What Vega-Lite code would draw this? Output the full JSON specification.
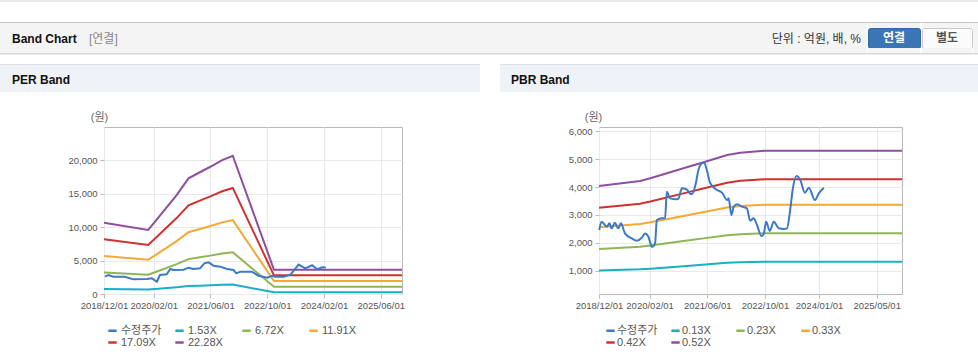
{
  "$schema": "https://vega.github.io/schema/vega-lite/v6.json",
  "background": "white",
  "padding": 0,
  "config": {
    "font": "Liberation Sans, Noto Sans CJK KR, sans-serif",
    "view": {"stroke": null},
    "concat": {"spacing": 0},
    "title": {"anchor": "start", "frame": "group", "fontSize": 12, "fontWeight": "bold", "color": "#111"}
  },
  "datasets": {
    "per": [
      {"s": "수정주가", "d": "2018/12/09", "v": 2590},
      {"s": "수정주가", "d": "2019/01/07", "v": 2840},
      {"s": "수정주가", "d": "2019/02/19", "v": 2590},
      {"s": "수정주가", "d": "2019/05/28", "v": 2590},
      {"s": "수정주가", "d": "2019/08/10", "v": 2190},
      {"s": "수정주가", "d": "2019/12/04", "v": 2240},
      {"s": "수정주가", "d": "2020/01/16", "v": 2340},
      {"s": "수정주가", "d": "2020/02/28", "v": 1840},
      {"s": "수정주가", "d": "2020/03/25", "v": 2840},
      {"s": "수정주가", "d": "2020/05/22", "v": 2940},
      {"s": "수정주가", "d": "2020/06/22", "v": 3740},
      {"s": "수정주가", "d": "2020/07/19", "v": 3590},
      {"s": "수정주가", "d": "2020/10/13", "v": 3640},
      {"s": "수정주가", "d": "2020/11/25", "v": 3940},
      {"s": "수정주가", "d": "2021/01/07", "v": 3740},
      {"s": "수정주가", "d": "2021/03/04", "v": 3840},
      {"s": "수정주가", "d": "2021/04/10", "v": 4590},
      {"s": "수정주가", "d": "2021/05/16", "v": 4740},
      {"s": "수정주가", "d": "2021/06/28", "v": 4240},
      {"s": "수정주가", "d": "2021/08/25", "v": 4090},
      {"s": "수정주가", "d": "2021/10/22", "v": 3740},
      {"s": "수정주가", "d": "2021/12/16", "v": 3590},
      {"s": "수정주가", "d": "2022/01/10", "v": 3090},
      {"s": "수정주가", "d": "2022/02/13", "v": 3340},
      {"s": "수정주가", "d": "2022/05/22", "v": 3340},
      {"s": "수정주가", "d": "2022/07/19", "v": 2740},
      {"s": "수정주가", "d": "2022/10/01", "v": 2440},
      {"s": "수정주가", "d": "2022/11/13", "v": 2740},
      {"s": "수정주가", "d": "2022/12/10", "v": 2590},
      {"s": "수정주가", "d": "2023/02/22", "v": 2590},
      {"s": "수정주가", "d": "2023/04/19", "v": 2900},
      {"s": "수정주가", "d": "2023/06/28", "v": 4400},
      {"s": "수정주가", "d": "2023/08/25", "v": 3840},
      {"s": "수정주가", "d": "2023/10/22", "v": 4300},
      {"s": "수정주가", "d": "2023/12/04", "v": 3700},
      {"s": "수정주가", "d": "2024/01/16", "v": 4000},
      {"s": "수정주가", "d": "2024/02/16", "v": 3950},
      {"s": "1.53X", "d": "2018/12/01", "v": 733},
      {"s": "1.53X", "d": "2019/12/15", "v": 658},
      {"s": "1.53X", "d": "2020/02/12", "v": 743},
      {"s": "1.53X", "d": "2020/08/15", "v": 1018},
      {"s": "1.53X", "d": "2020/11/25", "v": 1189},
      {"s": "1.53X", "d": "2021/03/03", "v": 1252},
      {"s": "1.53X", "d": "2021/06/01", "v": 1308},
      {"s": "1.53X", "d": "2021/09/10", "v": 1377},
      {"s": "1.53X", "d": "2021/12/10", "v": 1421},
      {"s": "1.53X", "d": "2022/11/28", "v": 251},
      {"s": "1.53X", "d": "2025/12/01", "v": 251},
      {"s": "6.72X", "d": "2018/12/01", "v": 3218},
      {"s": "6.72X", "d": "2019/12/15", "v": 2890},
      {"s": "6.72X", "d": "2020/02/12", "v": 3263},
      {"s": "6.72X", "d": "2020/08/15", "v": 4469},
      {"s": "6.72X", "d": "2020/11/25", "v": 5221},
      {"s": "6.72X", "d": "2021/03/03", "v": 5497},
      {"s": "6.72X", "d": "2021/06/01", "v": 5746},
      {"s": "6.72X", "d": "2021/09/10", "v": 6048},
      {"s": "6.72X", "d": "2021/12/10", "v": 6243},
      {"s": "6.72X", "d": "2022/11/28", "v": 1101},
      {"s": "6.72X", "d": "2025/12/01", "v": 1101},
      {"s": "11.91X", "d": "2018/12/01", "v": 5704},
      {"s": "11.91X", "d": "2019/12/15", "v": 5121},
      {"s": "11.91X", "d": "2020/02/12", "v": 5783},
      {"s": "11.91X", "d": "2020/08/15", "v": 7920},
      {"s": "11.91X", "d": "2020/11/25", "v": 9254},
      {"s": "11.91X", "d": "2021/03/03", "v": 9742},
      {"s": "11.91X", "d": "2021/06/01", "v": 10183},
      {"s": "11.91X", "d": "2021/09/10", "v": 10719},
      {"s": "11.91X", "d": "2021/12/10", "v": 11064},
      {"s": "11.91X", "d": "2022/11/28", "v": 1951},
      {"s": "11.91X", "d": "2025/12/01", "v": 1951},
      {"s": "17.09X", "d": "2018/12/01", "v": 8184},
      {"s": "17.09X", "d": "2019/12/15", "v": 7349},
      {"s": "17.09X", "d": "2020/02/12", "v": 8299},
      {"s": "17.09X", "d": "2020/08/15", "v": 11365},
      {"s": "17.09X", "d": "2020/11/25", "v": 13279},
      {"s": "17.09X", "d": "2021/03/03", "v": 13980},
      {"s": "17.09X", "d": "2021/06/01", "v": 14612},
      {"s": "17.09X", "d": "2021/09/10", "v": 15381},
      {"s": "17.09X", "d": "2021/12/10", "v": 15877},
      {"s": "17.09X", "d": "2022/11/28", "v": 2799},
      {"s": "17.09X", "d": "2025/12/01", "v": 2799},
      {"s": "22.28X", "d": "2018/12/01", "v": 10670},
      {"s": "22.28X", "d": "2019/12/15", "v": 9580},
      {"s": "22.28X", "d": "2020/02/12", "v": 10819},
      {"s": "22.28X", "d": "2020/08/15", "v": 14816},
      {"s": "22.28X", "d": "2020/11/25", "v": 17312},
      {"s": "22.28X", "d": "2021/03/03", "v": 18225},
      {"s": "22.28X", "d": "2021/06/01", "v": 19049},
      {"s": "22.28X", "d": "2021/09/10", "v": 20052},
      {"s": "22.28X", "d": "2021/12/10", "v": 20698},
      {"s": "22.28X", "d": "2022/11/28", "v": 3649},
      {"s": "22.28X", "d": "2025/12/01", "v": 3649}
    ],
    "pbr": [
      {"s": "수정주가", "d": "2018/12/03", "v": 2462},
      {"s": "수정주가", "d": "2018/12/23", "v": 2760},
      {"s": "수정주가", "d": "2019/02/05", "v": 2580},
      {"s": "수정주가", "d": "2019/02/27", "v": 2700},
      {"s": "수정주가", "d": "2019/03/17", "v": 2520},
      {"s": "수정주가", "d": "2019/04/14", "v": 2723},
      {"s": "수정주가", "d": "2019/05/12", "v": 2520},
      {"s": "수정주가", "d": "2019/06/04", "v": 2700},
      {"s": "수정주가", "d": "2019/07/08", "v": 2340},
      {"s": "수정주가", "d": "2019/09/04", "v": 2160},
      {"s": "수정주가", "d": "2019/10/15", "v": 2080},
      {"s": "수정주가", "d": "2019/11/27", "v": 2186},
      {"s": "수정주가", "d": "2019/12/25", "v": 2340},
      {"s": "수정주가", "d": "2020/01/22", "v": 2220},
      {"s": "수정주가", "d": "2020/02/20", "v": 1860},
      {"s": "수정주가", "d": "2020/03/18", "v": 1980},
      {"s": "수정주가", "d": "2020/04/02", "v": 2820},
      {"s": "수정주가", "d": "2020/05/14", "v": 2880},
      {"s": "수정주가", "d": "2020/06/11", "v": 2880},
      {"s": "수정주가", "d": "2020/06/25", "v": 3833},
      {"s": "수정주가", "d": "2020/07/23", "v": 3595},
      {"s": "수정주가", "d": "2020/09/19", "v": 3560},
      {"s": "수정주가", "d": "2020/10/02", "v": 3595},
      {"s": "수정주가", "d": "2020/10/31", "v": 3953},
      {"s": "수정주가", "d": "2020/12/12", "v": 3910},
      {"s": "수정주가", "d": "2021/01/10", "v": 3751},
      {"s": "수정주가", "d": "2021/01/24", "v": 3751},
      {"s": "수정주가", "d": "2021/02/22", "v": 4073},
      {"s": "수정주가", "d": "2021/03/19", "v": 4610},
      {"s": "수정주가", "d": "2021/04/17", "v": 4850},
      {"s": "수정주가", "d": "2021/05/06", "v": 4880},
      {"s": "수정주가", "d": "2021/05/29", "v": 4610},
      {"s": "수정주가", "d": "2021/06/27", "v": 4134},
      {"s": "수정주가", "d": "2021/08/23", "v": 3894},
      {"s": "수정주가", "d": "2021/10/04", "v": 3800},
      {"s": "수정주가", "d": "2021/11/16", "v": 3536},
      {"s": "수정주가", "d": "2021/11/29", "v": 3596},
      {"s": "수정주가", "d": "2021/12/22", "v": 2998},
      {"s": "수정주가", "d": "2022/01/11", "v": 3296},
      {"s": "수정주가", "d": "2022/02/09", "v": 3382},
      {"s": "수정주가", "d": "2022/03/21", "v": 3296},
      {"s": "수정주가", "d": "2022/05/02", "v": 3236},
      {"s": "수정주가", "d": "2022/05/30", "v": 2795},
      {"s": "수정주가", "d": "2022/06/28", "v": 2880},
      {"s": "수정주가", "d": "2022/07/26", "v": 2640},
      {"s": "수정주가", "d": "2022/09/02", "v": 2247},
      {"s": "수정주가", "d": "2022/09/21", "v": 2320},
      {"s": "수정주가", "d": "2022/10/11", "v": 2760},
      {"s": "수정주가", "d": "2022/11/11", "v": 2426},
      {"s": "수정주가", "d": "2022/12/15", "v": 2760},
      {"s": "수정주가", "d": "2023/01/26", "v": 2522},
      {"s": "수정주가", "d": "2023/03/08", "v": 2500},
      {"s": "수정주가", "d": "2023/04/06", "v": 2522},
      {"s": "수정주가", "d": "2023/05/04", "v": 3236},
      {"s": "수정주가", "d": "2023/05/23", "v": 3894},
      {"s": "수정주가", "d": "2023/06/24", "v": 4395},
      {"s": "수정주가", "d": "2023/07/27", "v": 4252},
      {"s": "수정주가", "d": "2023/09/03", "v": 3797},
      {"s": "수정주가", "d": "2023/10/07", "v": 3976},
      {"s": "수정주가", "d": "2023/11/27", "v": 3536},
      {"s": "수정주가", "d": "2023/12/30", "v": 3775},
      {"s": "수정주가", "d": "2024/02/11", "v": 3976},
      {"s": "0.13X", "d": "2018/12/01", "v": 1009},
      {"s": "0.13X", "d": "2019/11/13", "v": 1054},
      {"s": "0.13X", "d": "2020/02/07", "v": 1078},
      {"s": "0.13X", "d": "2020/11/13", "v": 1168},
      {"s": "0.13X", "d": "2021/05/16", "v": 1227},
      {"s": "0.13X", "d": "2021/11/16", "v": 1287},
      {"s": "0.13X", "d": "2022/03/07", "v": 1308},
      {"s": "0.13X", "d": "2022/10/04", "v": 1325},
      {"s": "0.13X", "d": "2025/12/01", "v": 1325},
      {"s": "0.23X", "d": "2018/12/01", "v": 1785},
      {"s": "0.23X", "d": "2019/11/13", "v": 1865},
      {"s": "0.23X", "d": "2020/02/07", "v": 1908},
      {"s": "0.23X", "d": "2020/11/13", "v": 2066},
      {"s": "0.23X", "d": "2021/05/16", "v": 2171},
      {"s": "0.23X", "d": "2021/11/16", "v": 2277},
      {"s": "0.23X", "d": "2022/03/07", "v": 2313},
      {"s": "0.23X", "d": "2022/10/04", "v": 2345},
      {"s": "0.23X", "d": "2025/12/01", "v": 2345},
      {"s": "0.33X", "d": "2018/12/01", "v": 2562},
      {"s": "0.33X", "d": "2019/11/13", "v": 2676},
      {"s": "0.33X", "d": "2020/02/07", "v": 2737},
      {"s": "0.33X", "d": "2020/11/13", "v": 2964},
      {"s": "0.33X", "d": "2021/05/16", "v": 3115},
      {"s": "0.33X", "d": "2021/11/16", "v": 3266},
      {"s": "0.33X", "d": "2022/03/07", "v": 3319},
      {"s": "0.33X", "d": "2022/10/04", "v": 3365},
      {"s": "0.33X", "d": "2025/12/01", "v": 3365},
      {"s": "0.42X", "d": "2018/12/01", "v": 3260},
      {"s": "0.42X", "d": "2019/11/13", "v": 3405},
      {"s": "0.42X", "d": "2020/02/07", "v": 3483},
      {"s": "0.42X", "d": "2020/11/13", "v": 3773},
      {"s": "0.42X", "d": "2021/05/16", "v": 3964},
      {"s": "0.42X", "d": "2021/11/16", "v": 4157},
      {"s": "0.42X", "d": "2022/03/07", "v": 4224},
      {"s": "0.42X", "d": "2022/10/04", "v": 4282},
      {"s": "0.42X", "d": "2025/12/01", "v": 4282},
      {"s": "0.52X", "d": "2018/12/01", "v": 4037},
      {"s": "0.52X", "d": "2019/11/13", "v": 4216},
      {"s": "0.52X", "d": "2020/02/07", "v": 4313},
      {"s": "0.52X", "d": "2020/11/13", "v": 4671},
      {"s": "0.52X", "d": "2021/05/16", "v": 4908},
      {"s": "0.52X", "d": "2021/11/16", "v": 5147},
      {"s": "0.52X", "d": "2022/03/07", "v": 5230},
      {"s": "0.52X", "d": "2022/10/04", "v": 5302},
      {"s": "0.52X", "d": "2025/12/01", "v": 5302}
    ]
  },
  "spacing": 0,
  "vconcat": [
    {"width": 978, "height": 2, "data": {"values": []}, "mark": "rect", "encoding": {}, "view": {"fill": "#e8e8e8", "stroke": null}},
    {"width": 978, "height": 20, "data": {"values": []}, "mark": "rect", "encoding": {}, "view": {"fill": null, "stroke": null}},
    {"width": 978, "height": 1, "data": {"values": []}, "mark": "rect", "encoding": {}, "view": {"fill": "#c6c6c6", "stroke": null}},
    {
      "spacing": 0,
      "hconcat": [
        {"width": 86, "height": 30, "data": {"values": []}, "mark": "rect", "encoding": {}, "view": {"fill": "#f4f4f4", "stroke": null},
         "title": {"text": "Band Chart", "dx": 12, "offset": -23, "fontSize": 12, "fontWeight": "bold", "color": "#111"}},
        {"width": 680, "height": 30, "data": {"values": []}, "mark": "rect", "encoding": {}, "view": {"fill": "#f4f4f4", "stroke": null},
         "title": {"text": "[연결]", "dx": 3, "offset": -23, "fontSize": 12, "fontWeight": "normal", "color": "#888"}},
        {"width": 101, "height": 30, "data": {"values": []}, "mark": "rect", "encoding": {}, "view": {"fill": "#f4f4f4", "stroke": null},
         "title": {"text": "단위 : 억원, 배, %", "anchor": "end", "dx": -6, "offset": -23, "fontSize": 12, "fontWeight": "normal", "color": "#333"}},
        {
          "bounds": "flush",
          "spacing": 0,
          "vconcat": [
            {"width": 52, "height": 5, "data": {"values": []}, "mark": "rect", "encoding": {}, "view": {"fill": "#f4f4f4", "stroke": null}},
            {"width": 52, "height": 20, "data": {"values": []}, "mark": "rect", "encoding": {}, "view": {"fill": "#3a76b6", "stroke": "#2f66a3", "cornerRadius": 2},
             "title": {"text": "연결", "anchor": "middle", "offset": -17, "fontSize": 12, "fontWeight": "bold", "color": "white"}},
            {"width": 52, "height": 5, "data": {"values": []}, "mark": "rect", "encoding": {}, "view": {"fill": "#f4f4f4", "stroke": null}}
          ]
        },
        {
          "bounds": "flush",
          "spacing": 0,
          "vconcat": [
            {"width": 50, "height": 5, "data": {"values": []}, "mark": "rect", "encoding": {}, "view": {"fill": "#f4f4f4", "stroke": null}},
            {"width": 50, "height": 20, "data": {"values": []}, "mark": "rect", "encoding": {}, "view": {"fill": "#fbfbfb", "stroke": "#c8c8c8", "cornerRadius": 2},
             "title": {"text": "별도", "anchor": "middle", "offset": -17, "fontSize": 12, "fontWeight": "bold", "color": "#555"}},
            {"width": 50, "height": 5, "data": {"values": []}, "mark": "rect", "encoding": {}, "view": {"fill": "#f4f4f4", "stroke": null}}
          ]
        },
        {"width": 9, "height": 30, "data": {"values": []}, "mark": "rect", "encoding": {}, "view": {"fill": "#f4f4f4", "stroke": null}}
      ]
    },
    {"width": 978, "height": 1, "data": {"values": []}, "mark": "rect", "encoding": {}, "view": {"fill": "#d8d8d8", "stroke": null}},
    {"width": 978, "height": 1, "data": {"values": []}, "mark": "rect", "encoding": {}, "view": {"fill": "#ececec", "stroke": null}},
    {"width": 978, "height": 9, "data": {"values": []}, "mark": "rect", "encoding": {}, "view": {"fill": null, "stroke": null}},
    {
      "bounds": "flush",
      "spacing": 0,
      "hconcat": [
        {"width": 480, "height": 1, "data": {"values": []}, "mark": "rect", "encoding": {}, "view": {"fill": "#dde2e9", "stroke": null}},
        {"width": 20, "height": 1, "data": {"values": []}, "mark": "rect", "encoding": {}, "view": {"fill": null, "stroke": null}},
        {"width": 478, "height": 1, "data": {"values": []}, "mark": "rect", "encoding": {}, "view": {"fill": "#dde2e9", "stroke": null}}
      ]
    },
    {
      "spacing": 0,
      "hconcat": [
        {"width": 480, "height": 27, "data": {"values": []}, "mark": "rect", "encoding": {}, "view": {"fill": "#eff2f7", "stroke": null},
         "title": {"text": "PER Band", "dx": 12, "offset": -22, "fontSize": 12, "fontWeight": "bold", "color": "#111"}},
        {"width": 20, "height": 27, "data": {"values": []}, "mark": "rect", "encoding": {}, "view": {"fill": null, "stroke": null}},
        {"width": 478, "height": 27, "data": {"values": []}, "mark": "rect", "encoding": {}, "view": {"fill": "#eff2f7", "stroke": null},
         "title": {"text": "PBR Band", "dx": 11, "offset": -22, "fontSize": 12, "fontWeight": "bold", "color": "#111"}}
      ]
    },
    {"width": 978, "height": 18, "data": {"values": []}, "mark": "rect", "encoding": {}, "view": {"fill": null, "stroke": null}},
    {
      "bounds": "flush",
      "spacing": 0,
      "resolve": {"scale": {"x": "independent", "y": "independent", "color": "independent"}, "legend": {"color": "independent"}, "axis": {"x": "independent", "y": "independent"}},
      "hconcat": [
        {"width": 104, "height": 1, "data": {"values": []}, "mark": "rect", "encoding": {}, "view": {"fill": null, "stroke": null}},
        {
          "width": 298,
          "height": 167,
          "data": {"name": "per"},
          "view": {"stroke": "#b8b8b8"},
          "encoding": {
            "x": {"field": "d", "type": "temporal",
              "scale": {"domain": [{"year": 2018, "month": 12, "date": 1}, {"year": 2025, "month": 12, "date": 1}]},
              "axis": {"values": [{"year": 2018, "month": 12, "date": 1}, {"year": 2020, "month": 2, "date": 1}, {"year": 2021, "month": 6, "date": 1}, {"year": 2022, "month": 10, "date": 1}, {"year": 2024, "month": 2, "date": 1}, {"year": 2025, "month": 6, "date": 1}],
                "format": "%Y/%m/%d", "title": null, "labelFontSize": 9.5, "labelColor": "#555", "tickColor": "#bbb", "tickSize": 4, "domain": false, "gridColor": "#e9e9e9", "labelOverlap": false, "labelFlush": false, "labelPadding": 2}},
            "y": {"field": "v", "type": "quantitative",
              "scale": {"domain": [0, 25000], "nice": false, "zero": false},
              "axis": {"values": [0, 5000, 10000, 15000, 20000], "format": ",d", "labelFontSize": 9.5, "labelColor": "#555", "tickColor": "#bbb", "tickSize": 4, "domain": false, "gridColor": "#e9e9e9", "labelPadding": 3,
                "title": "(원)", "titleAngle": 0, "titleX": -5, "titleY": -10, "titleAlign": "center", "titleBaseline": "middle", "titleFontWeight": "normal", "titleFontSize": 11, "titleColor": "#666"}},
            "color": {"field": "s", "type": "nominal",
              "scale": {"domain": ["수정주가", "1.53X", "6.72X", "11.91X", "17.09X", "22.28X"], "range": ["#3b7ac7", "#18b0c4", "#8fb554", "#f4a835", "#d1302e", "#8e4f9e"]},
              "legend": {"orient": "bottom", "direction": "horizontal", "columns": 4, "title": null, "symbolType": "stroke", "symbolStrokeWidth": 2.5, "symbolSize": 70, "labelFontSize": 11, "labelColor": "#555", "gridAlign": "all", "columnPadding": 8, "rowPadding": 0, "offset": 12, "padding": 3, "labelOffset": 3}}
          },
          "layer": [
            {"transform": [{"filter": "datum.s !== '수정주가'"}], "mark": {"type": "line", "strokeWidth": 2}},
            {"transform": [{"filter": "datum.s === '수정주가'"}], "mark": {"type": "line", "strokeWidth": 2}}
          ]
        },
        {"width": 197, "height": 1, "data": {"values": []}, "mark": "rect", "encoding": {}, "view": {"fill": null, "stroke": null}},
        {
          "width": 303,
          "height": 167,
          "data": {"name": "pbr"},
          "view": {"stroke": "#b8b8b8"},
          "encoding": {
            "x": {"field": "d", "type": "temporal",
              "scale": {"domain": [{"year": 2018, "month": 12, "date": 1}, {"year": 2025, "month": 12, "date": 1}]},
              "axis": {"values": [{"year": 2018, "month": 12, "date": 1}, {"year": 2020, "month": 2, "date": 1}, {"year": 2021, "month": 6, "date": 1}, {"year": 2022, "month": 10, "date": 1}, {"year": 2024, "month": 1, "date": 1}, {"year": 2025, "month": 5, "date": 1}],
                "format": "%Y/%m/%d", "title": null, "labelFontSize": 9.5, "labelColor": "#555", "tickColor": "#bbb", "tickSize": 4, "domain": false, "gridColor": "#e9e9e9", "labelOverlap": false, "labelFlush": false, "labelPadding": 2}},
            "y": {"field": "v", "type": "quantitative",
              "scale": {"domain": [170, 6150], "nice": false, "zero": false},
              "axis": {"values": [1000, 2000, 3000, 4000, 5000, 6000], "format": ",d", "labelFontSize": 9.5, "labelColor": "#555", "tickColor": "#bbb", "tickSize": 4, "domain": false, "gridColor": "#e9e9e9", "labelPadding": 3,
                "title": "(원)", "titleAngle": 0, "titleX": -6, "titleY": -10, "titleAlign": "center", "titleBaseline": "middle", "titleFontWeight": "normal", "titleFontSize": 11, "titleColor": "#666"}},
            "color": {"field": "s", "type": "nominal",
              "scale": {"domain": ["수정주가", "0.13X", "0.23X", "0.33X", "0.42X", "0.52X"], "range": ["#3b7ac7", "#18b0c4", "#8fb554", "#f4a835", "#d1302e", "#8e4f9e"]},
              "legend": {"orient": "bottom", "direction": "horizontal", "columns": 4, "title": null, "symbolType": "stroke", "symbolStrokeWidth": 2.5, "symbolSize": 70, "labelFontSize": 11, "labelColor": "#555", "gridAlign": "all", "columnPadding": 8, "rowPadding": 0, "offset": 9, "padding": 6, "labelOffset": 1}}
          },
          "layer": [
            {"transform": [{"filter": "datum.s !== '수정주가'"}], "mark": {"type": "line", "strokeWidth": 2}},
            {"transform": [{"filter": "datum.s === '수정주가'"}], "mark": {"type": "line", "strokeWidth": 2, "interpolate": "monotone"}}
          ]
        }
      ]
    }
  ]
}
